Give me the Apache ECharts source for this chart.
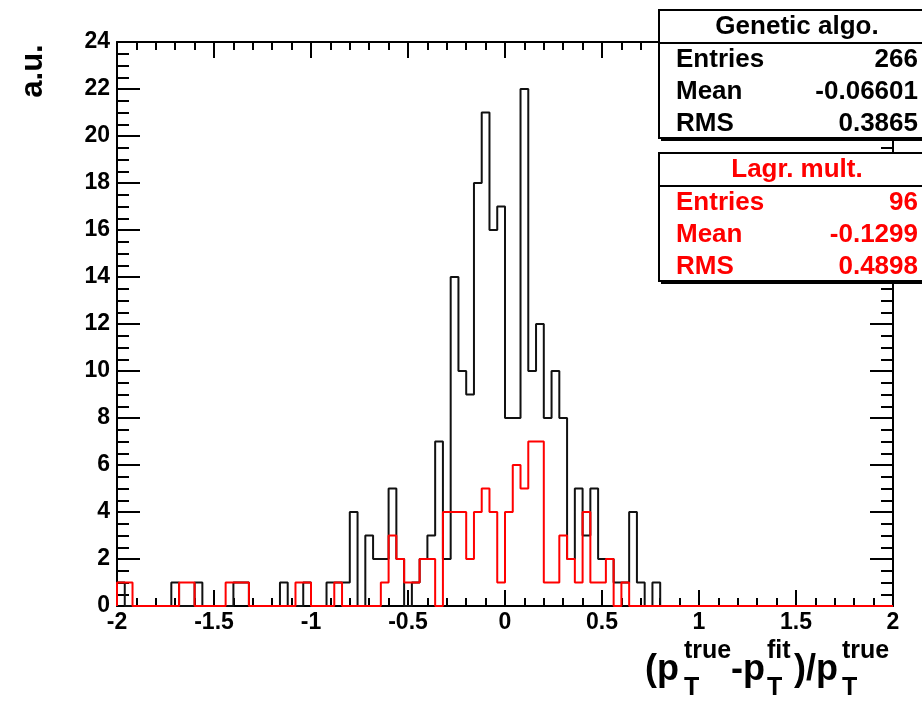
<!DOCTYPE html>
<html><head><meta charset="utf-8">
<script src="https://cdn.jsdelivr.net/npm/echarts@6/dist/echarts.min.js"></script>
<style>html,body{margin:0;padding:0;background:#fff}#c{width:922px;height:702px}</style>
</head><body><div id="c"></div>
<script>
// Histogram binning
const binLow = -2;
const binWidth = 0.04;
// Genetic algorithm histogram counts (100 bins from -2 to 2)
const geneticCounts = [
  1,0,0,0,0,0,0,1,0,0,
  1,0,0,0,0,1,1,0,0,0,
  0,1,0,0,1,0,0,1,1,1,
  4,0,3,2,2,5,2,0,1,2,
  3,7,2,14,10,9,18,21,16,17,
  8,8,22,10,12,8,10,8,2,5,
  3,5,2,2,1,1,4,1,0,1,
  0,0,0,0,0,0,0,0,0,0,
  0,0,0,0,0,0,0,0,0,0,
  0,0,0,0,0,0,0,0,0,0
];
// Lagrange multiplier histogram counts
const lagrCounts = [
  1,1,0,0,0,0,0,0,1,1,
  0,0,0,0,1,1,1,0,0,0,
  0,0,0,1,1,0,0,0,1,0,
  0,0,0,0,1,3,2,1,1,2,
  2,0,4,4,4,2,4,5,4,1,
  4,6,5,7,7,1,1,3,2,1,
  4,1,1,2,0,1,0,0,0,0,
  0,0,0,0,0,0,0,0,0,0,
  0,0,0,0,0,0,0,0,0,0,
  0,0,0,0,0,0,0,0,0,0
];
const geneticStats = {title: 'Genetic algo.', rows: [['Entries','266'],['Mean','-0.06601'],['RMS','0.3865']]};
const lagrStats = {title: 'Lagr. mult.', rows: [['Entries','96'],['Mean','-0.1299'],['RMS','0.4898']]};
const xRange = [-2, 2];
const yRange = [0, 24];

function outline(counts) {
  const pts = [[binLow, 0]];
  counts.forEach((v, i) => {
    const a = +(binLow + i * binWidth).toFixed(4);
    const b = +(binLow + (i + 1) * binWidth).toFixed(4);
    pts.push([a, v], [b, v]);
  });
  pts.push([+(binLow + counts.length * binWidth).toFixed(4), 0]);
  return pts;
}

const FONT = '"Liberation Sans", Arial, Helvetica, sans-serif';
const chart = echarts.init(document.getElementById('c'), null, {renderer: 'canvas'});

const axisCommon = {
  axisLine: {show: true, onZero: false, lineStyle: {color: '#000', width: 2}},
  splitLine: {show: false},
};
const xBase = Object.assign({}, axisCommon, {
  type: 'value', min: xRange[0], max: xRange[1], interval: 0.5,
  axisTick: {show: true, inside: true, length: 16, lineStyle: {color: '#000', width: 2}},
  minorTick: {show: true, splitNumber: 5, length: 8, lineStyle: {color: '#000', width: 2}},
});
const yBase = Object.assign({}, axisCommon, {
  type: 'value', min: yRange[0], max: yRange[1], interval: 2,
  axisTick: {show: true, inside: true, length: 23, lineStyle: {color: '#000', width: 2}},
  minorTick: {show: true, splitNumber: 4, length: 12, lineStyle: {color: '#000', width: 2}},
});

function statBox(stats, top, color) {
  const left = 659, h = 128, titleH = 33, rowY = [top + 50, top + 82, top + 114];
  const els = [
    {type: 'rect', shape: {x: left + 2, y: top + 3, width: 300, height: h}, style: {fill: '#000'}, z: 10},
    {type: 'rect', shape: {x: left, y: top, width: 300, height: h}, style: {fill: '#fff', stroke: '#000', lineWidth: 2}, z: 11},
    {type: 'line', shape: {x1: left, y1: top + titleH, x2: 922, y2: top + titleH}, style: {stroke: '#000', lineWidth: 2}, z: 12},
    {type: 'text', x: 797, y: top + 17, z: 12, style: {text: stats.title, font: 'bold 26px ' + FONT, fill: color, align: 'center', verticalAlign: 'middle'}},
  ];
  stats.rows.forEach((r, k) => {
    els.push({type: 'text', x: 676, y: rowY[k], z: 12, style: {text: r[0], font: 'bold 26px ' + FONT, fill: color, align: 'left', verticalAlign: 'middle'}});
    els.push({type: 'text', x: 918, y: rowY[k], z: 12, style: {text: r[1], font: 'bold 26px ' + FONT, fill: color, align: 'right', verticalAlign: 'middle'}});
  });
  return els;
}

const titleParts = [
  {t: '(p', x: 645, y: 670, s: 36},
  {t: 'true', x: 684, y: 651, s: 25},
  {t: 'T', x: 684, y: 688, s: 25},
  {t: '-p', x: 731, y: 670, s: 36},
  {t: 'fit', x: 767, y: 651, s: 25},
  {t: 'T', x: 767, y: 688, s: 25},
  {t: ')/p', x: 794, y: 670, s: 36},
  {t: 'true', x: 842, y: 651, s: 25},
  {t: 'T', x: 842, y: 688, s: 25},
];

const graphics = [].concat(
  statBox(geneticStats, 10, '#000'),
  statBox(lagrStats, 153, '#ff0000'),
  titleParts.map(p => ({type: 'text', x: p.x, y: p.y, style: {text: p.t, font: 'bold ' + p.s + 'px ' + FONT, fill: '#000', align: 'left', verticalAlign: 'middle'}})),
  [{type: 'text', x: 33, y: 71, rotation: Math.PI / 2, style: {text: 'a.u.', font: 'bold 31px ' + FONT, fill: '#000', align: 'center', verticalAlign: 'middle'}}]
);

chart.setOption({
  animation: false,
  backgroundColor: '#fff',
  grid: {left: 117, right: 29, top: 42, bottom: 96, containLabel: false},
  xAxis: [
    Object.assign({}, xBase, {position: 'bottom', axisLabel: {show: true, color: '#000', fontFamily: FONT, fontWeight: 'bold', fontSize: 23, margin: 5}}),
    Object.assign({}, xBase, {position: 'top', axisLabel: {show: false}}),
  ],
  yAxis: [
    Object.assign({}, yBase, {position: 'left', axisLabel: {show: true, color: '#000', fontFamily: FONT, fontWeight: 'bold', fontSize: 23, margin: 7}}),
    Object.assign({}, yBase, {position: 'right', axisLabel: {show: false}}),
  ],
  series: [
    {type: 'line', name: 'Genetic algo.', data: outline(geneticCounts), xAxisIndex: 0, yAxisIndex: 0, symbol: 'none', lineStyle: {color: '#111', width: 2}, z: 3, clip: false},
    {type: 'line', name: 'Lagr. mult.', data: outline(lagrCounts), xAxisIndex: 0, yAxisIndex: 0, symbol: 'none', lineStyle: {color: '#ff0000', width: 2}, z: 4, clip: false},
  ],
  graphic: graphics,
});
</script></body></html>
